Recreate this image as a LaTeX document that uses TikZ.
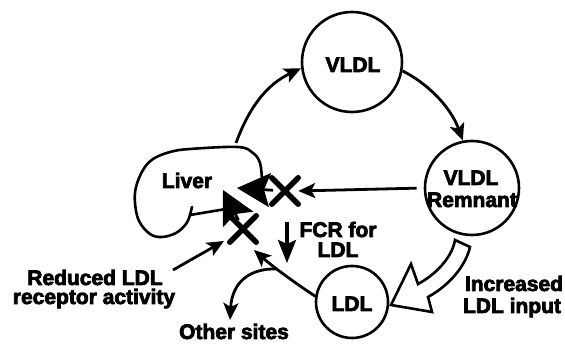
\documentclass[tikz,border=0pt]{standalone}
\usepackage{fontspec}
\setmainfont{Liberation Sans}[BoldFeatures={FakeBold=3.5}]
\usetikzlibrary{arrows.meta,shapes.misc}
\begin{document}
\begin{tikzpicture}[x=1pt,y=-1pt,
 circ/.style={circle, draw, line width=2.6pt, inner sep=0pt},
 lbl/.style={font=\fontsize{21}{22}\selectfont\bfseries, anchor=base, inner sep=0pt},
 conn/.style={line width=2.8pt, -{Stealth[length=17pt,width=15pt,inset=4pt]}},
 bigtip/.style={line width=2.8pt, -{Stealth[length=33pt,width=34pt,inset=6pt]}},
 downarr/.style={line width=3.5pt, -{Stealth[length=23pt,width=18pt,inset=4pt]}},
 xmark/.style={cross out, draw, line width=5.5pt, line cap=round, minimum size=21pt, inner sep=0pt},
 outline/.style={line width=2.6pt, line cap=round, line join=round},
 hollow/.style={line width=2.6pt, line join=miter, fill=white}]
\useasboundingbox (0,0) rectangle (565,344);

% circles
\node[circ, minimum size=100pt] (vldl) at (352,62) {};
\node[circ, minimum size=94pt] (rem) at (472,188) {};
\node[circ, minimum size=72pt] (ldl) at (352,302) {};

% labels
\node[lbl] (tv) at (353,72) {VLDL};
\node[lbl] (tr1) at (471,185) {VLDL};
\node[lbl] (tr2) at (472,207) {Remnant};
\node[lbl] (tl) at (352,311) {LDL};
\node[lbl] (tliv) at (187,188) {Liver};
\node[lbl] (tf1) at (338,237) {FCR for};
\node[lbl] (tf2) at (338,257) {LDL};
\node[lbl] (tre1) at (95,285) {Reduced LDL};
\node[lbl] (tre2) at (94,304) {receptor activity};
\node[lbl] (tos) at (234,339) {Other sites};
\node[lbl] (tin1) at (514,291) {Increased};
\node[lbl] (tin2) at (512,313) {LDL input};

% liver outline
\draw[outline] plot[smooth, tension=0.6] coordinates {(262,180) (260,163) (253,153) (238,147) (190,149) (170,152) (153,159) (143,170) (136,187) (135,203) (139,221) (150,234) (162,237) (176,233) (186,224) (190,215)};
\draw[outline] (192,207) -- (190,215) -- (226,209);

% X marks
\node[xmark] (xu) at (285,191) {};
\node[xmark] (xl) at (243,229) {};

% coordinates
\coordinate (livtop) at (236,143);
\coordinate (tipA) at (237,188);
\coordinate (tipB) at (223,190);
\coordinate (tipC) at (254,250);
\coordinate (redstart) at (173,270);
\coordinate (redtip) at (224,241);
\coordinate (fcr1) at (287,222);
\coordinate (fcr2) at (287,263);
\coordinate (branch) at (277,269);
\coordinate (ostip) at (230,320);

% cycle arrows
\draw[conn] (livtop) .. controls (250,105) and (268,84) .. (vldl.187);
\draw[conn] (vldl.-10) .. controls (425,82) and (450,105) .. (rem.101);
\draw[conn, shorten <=7pt] (rem.west) -- (xu.east);
\draw[bigtip, shorten <=12pt] (xu.center) -- (tipA);
\draw[bigtip, shorten <=10pt] (xl.center) -- (tipB);
\draw[conn] (redstart) -- (redtip);
\draw[downarr] (fcr1) -- (fcr2);
\draw[conn] (ldl.171) .. controls (295,283) and (272,266) .. (tipC);
\draw[conn] (branch) .. controls (250,268) and (232,282) .. (ostip);

% hollow arrow
\draw[hollow] (455,240) .. controls (452,258) and (435,275) .. (418,284) -- (411,264) -- (391,305) -- (432,312) -- (428,297) .. controls (450,285) and (466,265) .. (470,247) -- cycle;
\end{tikzpicture}
\end{document}
